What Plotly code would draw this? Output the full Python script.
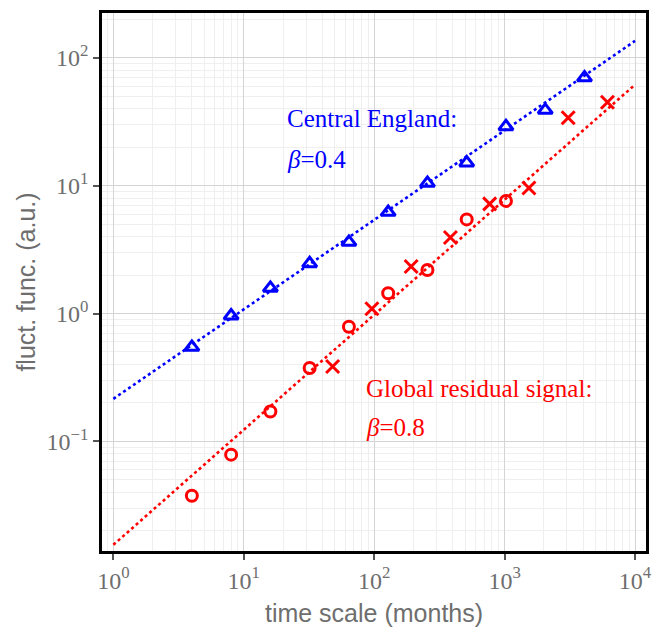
import numpy as np
import plotly.graph_objects as go

# Fluctuation function vs. time scale (months), log-log
cet_scale = [4, 8, 16, 32, 64, 128, 256, 512, 1024, 2048, 4096]
cet_fluct = [0.545, 0.96, 1.58, 2.46, 3.62, 6.2, 10.45, 15.1, 29.0, 39.0, 70.0]

glob_circ_scale = [4, 8, 16, 32, 64, 128, 256, 512, 1024]
glob_circ_fluct = [0.0375, 0.0787, 0.171, 0.375, 0.787, 1.44, 2.19, 5.45, 7.6]

glob_cross_scale = [48, 96, 192, 384, 768, 1536, 3072, 6144]
glob_cross_fluct = [0.385, 1.09, 2.33, 3.93, 7.2, 9.6, 34.0, 45.0]

# power-law fits F(s) = A * s**alpha, alpha = (beta + 1) / 2
fit_scale = [1, 10000]
cet_fit = dict(amp=0.215, beta=0.4)
glob_fit = dict(amp=0.0155, beta=0.8)

x_tick_exps = [0, 1, 2, 3, 4]
y_tick_exps = [-1, 0, 1, 2]
x_minor_exps = [-1, 0, 1, 2, 3, 4]
y_minor_exps = [-2, -1, 0, 1, 2]
minor_digits = [2, 3, 4, 5, 6, 7, 8, 9]

BLUE = "#0000ff"
RED = "#ff0000"
SERIF = "Liberation Serif, Times New Roman, serif"
SANS = "Liberation Sans, Arial, sans-serif"
GREY = "#6e6e6e"


def power_law(amp, beta, s):
    alpha = (beta + 1) / 2
    return [amp * v ** alpha for v in s]


def minor_vals(exps):
    return [d * 10.0 ** k for k in exps for d in minor_digits]


fig = go.Figure()

fig.add_trace(go.Scatter(
    x=fit_scale, y=power_law(cet_fit["amp"], cet_fit["beta"], fit_scale),
    mode="lines", line=dict(color=BLUE, width=2.6, dash="dot"),
    showlegend=False, hoverinfo="skip"))
fig.add_trace(go.Scatter(
    x=fit_scale, y=power_law(glob_fit["amp"], glob_fit["beta"], fit_scale),
    mode="lines", line=dict(color=RED, width=2.6, dash="dot"),
    showlegend=False, hoverinfo="skip"))

fig.add_trace(go.Scatter(
    x=cet_scale, y=cet_fluct, mode="markers",
    marker=dict(symbol="triangle-up-open", size=12.5, color=BLUE,
                line=dict(color=BLUE, width=3)),
    showlegend=False))
fig.add_trace(go.Scatter(
    x=glob_circ_scale, y=glob_circ_fluct, mode="markers",
    marker=dict(symbol="circle-open", size=11, color=RED,
                line=dict(color=RED, width=3)),
    showlegend=False))
fig.add_trace(go.Scatter(
    x=glob_cross_scale, y=glob_cross_fluct, mode="markers",
    marker=dict(symbol="x-thin-open", size=13, color=RED,
                line=dict(color=RED, width=3)),
    showlegend=False))

annot_font = 25
fig.add_annotation(text="Central England:", xref="paper", yref="paper",
                   x=0.336, y=0.803, xanchor="left", yanchor="middle",
                   showarrow=False, font=dict(family=SERIF, size=annot_font, color=BLUE))
fig.add_annotation(text="<i>β</i>=0.4", xref="paper", yref="paper",
                   x=0.336, y=0.728, xanchor="left", yanchor="middle",
                   showarrow=False, font=dict(family=SERIF, size=annot_font, color=BLUE))
fig.add_annotation(text="Global residual signal:", xref="paper", yref="paper",
                   x=0.482, y=0.302, xanchor="left", yanchor="middle",
                   showarrow=False, font=dict(family=SERIF, size=annot_font, color=RED))
fig.add_annotation(text="<i>β</i>=0.8", xref="paper", yref="paper",
                   x=0.482, y=0.230, xanchor="left", yanchor="middle",
                   showarrow=False, font=dict(family=SERIF, size=annot_font, color=RED))

common_axis = dict(
    type="log",
    showline=True, linecolor="black", linewidth=2.5, mirror=True,
    ticks="outside", ticklen=6, tickwidth=2, tickcolor="#555555",
    showgrid=True, gridcolor="#d4d4d4", gridwidth=1.3,
    zeroline=False,
    tickfont=dict(family=SERIF, size=24, color=GREY),
)

fig.update_xaxes(
    **common_axis,
    range=[-0.087, 4.084],
    tickvals=[10 ** k for k in x_tick_exps],
    ticktext=[f"10<sup>{k}</sup>".replace("-", "−") for k in x_tick_exps],
    minor=dict(tickvals=minor_vals(x_minor_exps), showgrid=True,
               gridcolor="#efefef", gridwidth=1, ticks=""),
    title=dict(text="time scale (months)", font=dict(family=SANS, size=25, color=GREY),
               standoff=12),
)
fig.update_yaxes(
    **common_axis,
    range=[-1.858, 2.351],
    tickvals=[10 ** k for k in y_tick_exps],
    ticktext=[f"10<sup>{k}</sup>".replace("-", "−") for k in y_tick_exps],
    minor=dict(tickvals=minor_vals(y_minor_exps), showgrid=True,
               gridcolor="#efefef", gridwidth=1, ticks=""),
    title=dict(text="fluct. func. (a.u.)", font=dict(family=SANS, size=25, color=GREY),
               standoff=4),
)

fig.update_layout(
    width=666, height=633,
    margin=dict(l=102, r=20, t=10, b=80),
    plot_bgcolor="white", paper_bgcolor="white",
)

fig.write_html("out.html")
